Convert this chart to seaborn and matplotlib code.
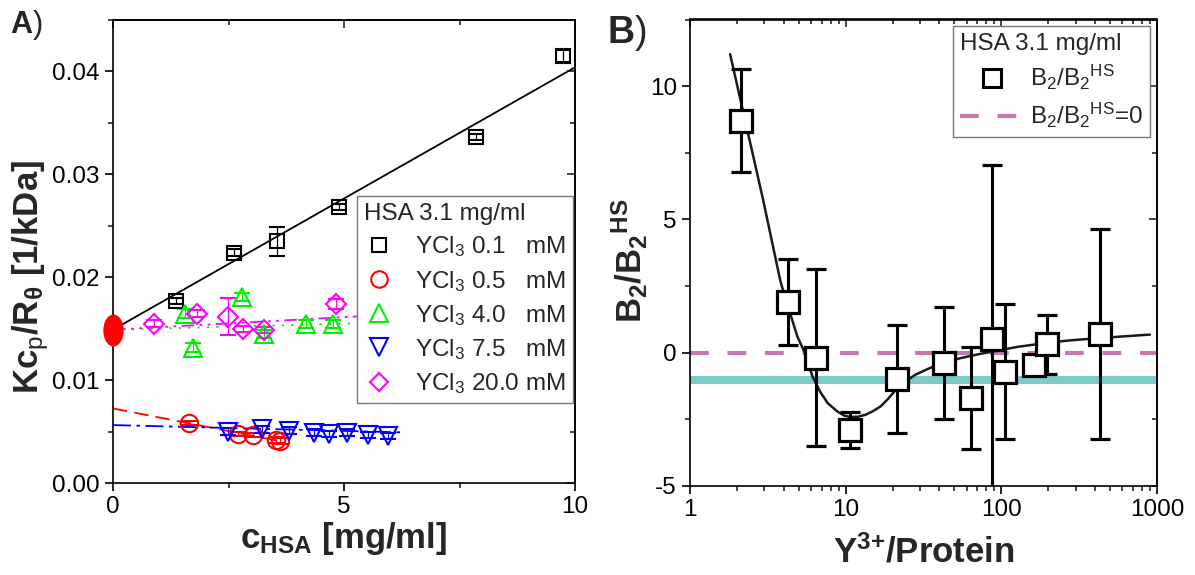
import numpy as np
import pandas as pd
import matplotlib
matplotlib.use("Agg")
import matplotlib.pyplot as plt
import seaborn as sns
from matplotlib.lines import Line2D
from matplotlib.path import Path
from matplotlib.transforms import Affine2D
from matplotlib.ticker import MultipleLocator, FormatStrFormatter, LogLocator, NullFormatter

# ---------------- Panel A: Kc/R vs HSA concentration ----------------
sq_x = [1.36, 2.62, 3.54, 4.90, 7.86, 9.75]
sq_y = [0.0177, 0.0224, 0.0235, 0.0268, 0.0336, 0.0415]
sq_err = [0.0003, 0.0003, 0.0014, 0.0003, 0.0003, 0.0006]

ci_x = [1.65, 2.70, 3.04, 3.52, 3.61]
ci_y = [0.00586, 0.00476, 0.00466, 0.00417, 0.00408]
ci_err = [0.0002, 0.0002, 0.0002, 0.0003, 0.0003]

up_x = [1.56, 1.74, 2.80, 3.27, 4.17, 4.77]
up_y = [0.01647, 0.01316, 0.0181, 0.01450, 0.01545, 0.01545]
up_err = [0.0004, 0.0004, 0.0004, 0.0004, 0.0004, 0.0004]

dn_x = [2.48, 3.22, 3.81, 4.35, 4.68, 5.06, 5.51, 5.95]
dn_y = [0.0050, 0.0052, 0.0051, 0.0049, 0.0048, 0.0049, 0.0047, 0.0046]
dn_err = [0.0003, 0.0003, 0.0003, 0.0003, 0.0003, 0.0003, 0.0003, 0.0003]

di_x = [0.89, 1.81, 2.49, 2.82, 3.27, 4.83]
di_y = [0.0155, 0.01647, 0.01615, 0.0150, 0.0149, 0.0174]
di_err = [0.0003, 0.0003, 0.0018, 0.0003, 0.0003, 0.0005]

# common intercept at c = 0
icpt_x = [0.0]
icpt_y = [0.0149]

# linear fits: intercept, slope, upper x limit
fit_names = ["0.1", "0.5", "4.0", "7.5", "20.0"]
fit_intercept = [0.0149, 0.00725, 0.0149, 0.00563, 0.0149]
fit_slope = [0.00255, -0.00088, 0.000117, -0.000113, 0.000244]
fit_xmax = [10.0, 3.65, 6.5, 6.28, 6.5]

series_labels = ["YCl$_3$ 0.1   mM", "YCl$_3$ 0.5   mM", "YCl$_3$ 4.0   mM",
                 "YCl$_3$ 7.5   mM", "YCl$_3$ 20.0 mM"]

# ---------------- Panel B: B2/B2HS vs Y3+/protein ----------------
b_x = [2.13, 4.25, 6.41, 10.7, 21.4, 43.0, 64.0, 86.6, 106.0, 163.0, 196.0, 431.0]
b_y = [8.70, 1.90, -0.19, -2.89, -1.00, -0.40, -1.70, 0.50, -0.71, -0.46, 0.32, 0.70]
b_err = [1.93, 1.60, 3.32, 0.67, 2.03, 2.10, 1.93, 6.56, 2.52, 0.30, 1.10, 3.93]

curve_x = [1.81, 2.36, 2.95, 3.80, 4.07, 4.90, 5.46, 6.13, 6.85, 7.66, 8.82, 9.8, 10.7,
           12.0, 13.4, 15.0, 16.8, 18.8, 21.0, 24.0, 27.9, 34.0, 41.2, 55.0, 72.3, 95.0,
           127, 170, 222, 300, 388, 600, 900]
curve_y = [11.2, 8.23, 5.73, 2.71, 2.10, 0.60, 0.00, -0.90, -1.46, -1.89, -2.20, -2.36, -2.41,
           -2.40, -2.33, -2.19, -2.01, -1.72, -1.39, -1.10, -0.83, -0.60, -0.40, -0.20, -0.05, 0.08,
           0.22, 0.32, 0.41, 0.48, 0.53, 0.61, 0.68]

band_lo, band_hi = -1.18, -0.86

# ---------------- style ----------------
sns.set_theme(style="ticks")
plt.rcParams["font.family"] = ["Liberation Sans", "DejaVu Sans"]
plt.rcParams["mathtext.fontset"] = "custom"
plt.rcParams["mathtext.rm"] = "Liberation Sans"
plt.rcParams["mathtext.bf"] = "Liberation Sans:bold"
plt.rcParams["mathtext.it"] = "Liberation Sans:italic"
plt.rcParams["mathtext.default"] = "regular"
plt.rcParams["axes.unicode_minus"] = False

TICK_FS = 17.5
LEG_FS = 17.5
LABEL_FS = 25

fig = plt.figure(figsize=(11.95, 5.75), dpi=100)
W, H = 1195, 575
axA = fig.add_axes([113 / W, 1 - 483 / H, (575 - 113) / W, (483 - 20) / H])
axB = fig.add_axes([690 / W, 1 - 486 / H, (1157 - 690) / W, (486 - 19.5) / H])


def style_axes(ax):
    for s in ax.spines.values():
        s.set_linewidth(1.2)
        s.set_color("black")
        s.set_visible(True)
    ax.tick_params(which="major", direction="out", length=6, width=1.2,
                   labelsize=TICK_FS, colors="black", top=False, right=False)
    ax.tick_params(which="minor", direction="out", length=3.5, width=1.2,
                   top=False, right=False)
    ax.grid(False)
    ax.set_facecolor("white")


def inner_ticks(ax, xmaj, xmin, ymaj, ymin):
    top = ax.secondary_xaxis("top")
    right = ax.secondary_yaxis("right")
    top.xaxis.set_major_locator(xmaj)
    top.xaxis.set_minor_locator(xmin)
    right.yaxis.set_major_locator(ymaj)
    right.yaxis.set_minor_locator(ymin)
    for sec in (top, right):
        sec.tick_params(which="major", direction="in", length=6, width=1.2,
                        labeltop=False, labelright=False, labelbottom=False, labelleft=False)
        sec.tick_params(which="minor", direction="in", length=3.5, width=1.2)
        for s in sec.spines.values():
            s.set_linewidth(1.2)
            s.set_color("black")


# ---- Panel A ----
style_axes(axA)
ls_map = ["-", (0, (8, 4)), (0, (1.2, 4)), (0, (10, 3, 2, 3)), (0, (7, 3, 1.5, 3, 1.5, 3))]
colors = ["black", "#ff0000", "#00ee00", "#0000ff", "#ff00ff"]
for name, b0, b1, xm, ls, col in zip(fit_names, fit_intercept, fit_slope, fit_xmax, ls_map, colors):
    fx = np.array([0.0, xm])
    df = pd.DataFrame({"c": fx, "kc": b0 + b1 * fx})
    sns.lineplot(data=df, x="c", y="kc", ax=axA, color=col, linestyle=ls,
                 linewidth=1.3, zorder=2)

marker_sets = [
    (sq_x, sq_y, sq_err, "s", 10, colors[0]),
    (ci_x, ci_y, ci_err, "o", 12.5, colors[1]),
    (up_x, up_y, up_err, "^", 13.5, colors[2]),
    (dn_x, dn_y, dn_err, "v", 13.5, colors[3]),
    (di_x, di_y, di_err, "D", 10, colors[4]),
]
for x, y, e, m, ms, col in marker_sets:
    axA.errorbar(x, y, yerr=e, fmt=m, ms=ms, mfc="none", mec=col, mew=1.5,
                 ecolor=col, elinewidth=0.9, capsize=6, capthick=0.9, zorder=3)

ellipse = Path.unit_circle().transformed(Affine2D().scale(0.62, 1.0))
axA.plot(icpt_x, icpt_y, ls="none", marker=ellipse, ms=22, color="#ff0000",
         mec="#ff0000", clip_on=False, zorder=5)

axA.set_xlim(0, 10)
axA.set_ylim(0, 0.045)
axA.xaxis.set_major_locator(MultipleLocator(5))
axA.xaxis.set_minor_locator(MultipleLocator(2.5))
axA.yaxis.set_major_locator(MultipleLocator(0.01))
axA.yaxis.set_minor_locator(MultipleLocator(0.005))
axA.yaxis.set_major_formatter(FormatStrFormatter("%.2f"))
inner_ticks(axA, MultipleLocator(5), MultipleLocator(2.5),
            MultipleLocator(0.01), MultipleLocator(0.005))

axA.set_xlabel(r"c$_\mathbf{HSA}$ [mg/ml]", fontsize=LABEL_FS, fontweight="bold")
axA.set_ylabel(r"Kc$_\mathrm{p}$/R$_\theta$ [1/kDa]", fontsize=LABEL_FS, fontweight="bold")
axA.xaxis.set_label_coords(0.5, -0.08)
axA.yaxis.set_label_coords(-0.135, 0.445)

handlesA = [Line2D([], [], ls="none", marker=m, ms=ms * 0.95, mfc="none", mec=col, mew=1.5)
            for _, _, _, m, ms, col in marker_sets]
legA = axA.legend(handlesA, series_labels, title="HSA 3.1 mg/ml", loc="upper right",
                  bbox_to_anchor=(0.996, 0.62), fontsize=LEG_FS, title_fontsize=LEG_FS,
                  frameon=True, fancybox=False, framealpha=1, edgecolor="#777777",
                  alignment="left", labelspacing=0.38, handletextpad=0.9,
                  handlelength=1.2, borderpad=0.3, borderaxespad=0)
legA.get_frame().set_linewidth(1.0)

# ---- Panel B ----
style_axes(axB)
axB.set_xscale("log")
axB.axhspan(band_lo, band_hi, color="#7ecac7", lw=0, zorder=1)
axB.axhline(0, color="#c37ab0", lw=3, linestyle=(0, (4.5, 4.5)), zorder=2)
dfc = pd.DataFrame({"ratio": curve_x, "b2": curve_y})
sns.lineplot(data=dfc, x="ratio", y="b2", ax=axB, color="#1a1a1a", linewidth=1.8,
             sort=False, zorder=3)
axB.errorbar(b_x, b_y, yerr=b_err, fmt="s", ms=16, mfc="white", mec="black", mew=2.3,
             ecolor="black", elinewidth=2.2, capsize=7, capthick=2.2, zorder=4)

axB.set_xlim(1, 1000)
axB.set_ylim(-5, 12.5)
axB.set_xticks([1, 10, 100, 1000], labels=["1", "10", "100", "1000"])
axB.xaxis.set_minor_locator(LogLocator(base=10, subs=range(2, 10)))
axB.xaxis.set_minor_formatter(NullFormatter())
axB.yaxis.set_major_locator(MultipleLocator(5))
axB.yaxis.set_minor_locator(MultipleLocator(2.5))
inner_ticks(axB, LogLocator(base=10), LogLocator(base=10, subs=range(2, 10)),
            MultipleLocator(5), MultipleLocator(2.5))

axB.set_xlabel(r"Y$^{\mathbf{3}\mathbf{+}}$/Protein", fontsize=LABEL_FS, fontweight="bold")
axB.set_ylabel(r"B$_\mathbf{2}$/B$_\mathbf{2}$$^\mathbf{HS}$", fontsize=LABEL_FS, fontweight="bold")
axB.xaxis.set_label_coords(0.5, -0.105)
axB.yaxis.set_label_coords(-0.085, 0.484)

handlesB = [Line2D([], [], ls="none", marker="s", ms=12.5, mfc="white", mec="black", mew=2.2),
            Line2D([], [], color="#c37ab0", lw=3, linestyle=(0, (4.5, 4.5)))]
legB = axB.legend(handlesB, [r"B$_2$/B$_2$$^\mathrm{HS}$", r"B$_2$/B$_2$$^\mathrm{HS}$=0"],
                  title="HSA 3.1 mg/ml", loc="upper right", bbox_to_anchor=(0.985, 0.987),
                  fontsize=LEG_FS, title_fontsize=LEG_FS, frameon=True, fancybox=False,
                  framealpha=1, edgecolor="#777777", alignment="left", labelspacing=0.35,
                  handletextpad=0.25, handlelength=2.6, borderpad=0.3, borderaxespad=0)
legB.get_frame().set_linewidth(1.0)

# panel letters
fig.text(10 / W, 1 - 33 / H, r"$\mathbf{A}$)", fontsize=22, va="baseline")
fig.text(607 / W, 1 - 43 / H, r"$\mathbf{B}$)", fontsize=27, va="baseline")

fig.savefig("out.png", dpi=100, facecolor="white")
